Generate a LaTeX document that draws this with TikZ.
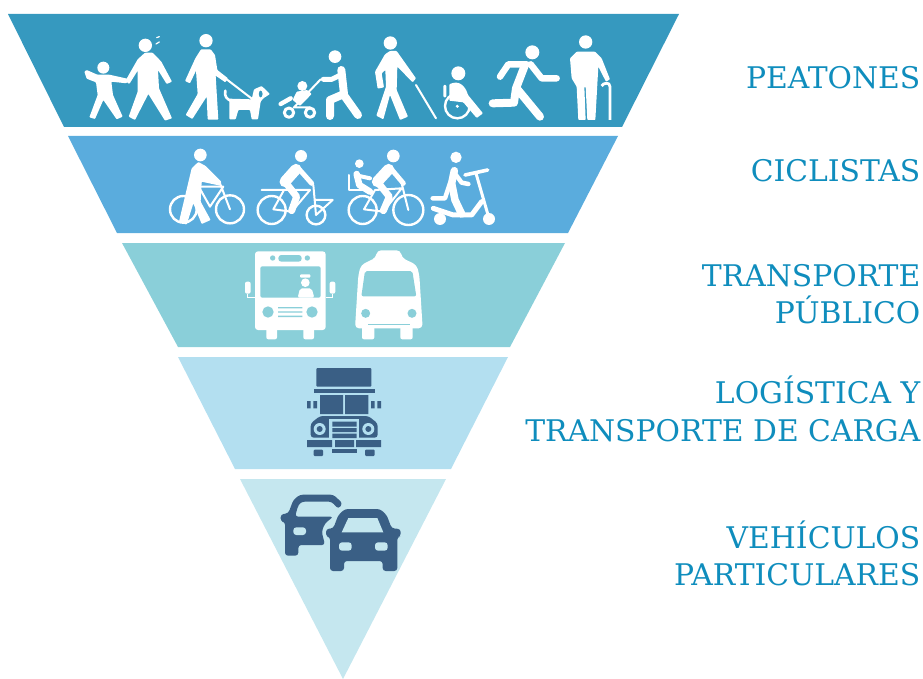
\documentclass[tikz,border=0pt]{standalone}
\usepackage{fontspec}
\usepackage{xcolor}
\setmainfont{DejaVu Serif}
\definecolor{bandA}{HTML}{3699BF}
\definecolor{bandB}{HTML}{5AACDD}
\definecolor{bandC}{HTML}{8ACFD9}
\definecolor{bandD}{HTML}{B3DFF0}
\definecolor{bandE}{HTML}{C5E7EF}
\definecolor{labelblue}{HTML}{0F8DBD}
\definecolor{slate}{HTML}{3A5F85}
\tikzset{
	band/.style={draw=none},
	label/.style={anchor=east,align=right,inner sep=0pt,text=labelblue,font=\fontsize{29.8}{37.5}\selectfont},
	solid white/.style={fill=white,rounded corners=.8pt},
	limb/.style={draw=white,line width=8pt,line cap=round,line join=round},
	rod/.style={draw=white,line width=2pt,line cap=round,line join=round},
	dark/.style={fill=slate,rounded corners=1pt}
}
\begin{document}
\begin{tikzpicture}[x=1pt,y=-1pt]
		\useasboundingbox (0,0) rectangle (923,679);
		%
		% inverted pyramid
		\fill[band,bandA] (8,14) -- (679,14) -- (622,127) -- (64,127) -- cycle;
		\fill[band,bandB] (68,136) -- (618,136) -- (568,233) -- (117,233) -- cycle;
		\fill[band,bandC] (122,243) -- (565,243) -- (510,347) -- (178,347) -- cycle;
		\fill[band,bandD] (178,357) -- (508,357) -- (451,469) -- (235,469) -- cycle;
		\fill[band,bandE] (240,479) -- (446,479) -- (343,679) -- cycle;
		%
		% labels
		\node[label] (peatones) at (920.5,78) {PEATONES};
		\node[label] (ciclistas) at (920.5,171) {CICLISTAS};
		\node[label] (publico) at (920.5,294) {TRANSPORTE\\PÚBLICO};
		\node[label] (carga) at (920.5,409) {LOGÍSTICA Y\\TRANSPORTE DE CARGA};
		\node[label] (particulares) at (920.5,553.5) {VEHÍCULOS\\PARTICULARES};
		%
		% pedestrians, left part
		\begin{scope}[shift={(70,20)},scale=1/3]
			% child and adult
			\fill[white] (100,143) circle (18);
			\fill[solid white] (43,155) -- (50,150) -- (82,164) -- (118,164) -- (172,176) -- (170,190) -- (124,185) -- (129,225) -- (158,290) -- (140,298) -- (100,240) -- (75,297) -- (58,292) -- (83,225) -- (78,187) -- (50,176) -- cycle;
			\fill[white] (226,76) circle (20);
			\fill[solid white] (166,183) -- (203,118) -- (225,98) -- (248,98) -- (274,125) -- (306,185) -- (290,192) -- (264,150) -- (267,205) -- (306,295) -- (285,302) -- (235,222) -- (195,300) -- (176,290) -- (203,215) -- (203,152) -- (178,192) -- cycle;
			\draw[rod,line width=1.2pt] (260,53) -- (268,50) (258,72) -- (268,66);
			% man with dog
			\fill[white] (408,62) circle (20);
			\fill[solid white] (345,183) -- (376,115) -- (393,88) -- (422,88) -- (435,105) -- (442,150) -- (474,175) -- (466,187) -- (437,167) -- (445,299) -- (413,299) -- (410,230) -- (367,297) -- (347,285) -- (383,222) -- (378,152) -- (360,190) -- cycle;
			\draw[rod] (470,178) -- (548,238);
			\fill[solid white] (478,236) -- (545,238) -- (552,208) -- (575,198) -- (600,222) -- (580,235) -- (572,245) -- (564,298) -- (545,298) -- (540,270) -- (505,270) -- (497,298) -- (478,298) -- (478,265) -- cycle;
			\draw[white,line width=2.6pt,line cap=round] (466,212) .. controls (462,230) and (472,238) .. (482,242);
			\fill[bandA] (572,222) ellipse (8 and 13);
			\draw[white,line width=1.3pt] (572,222) ellipse (8 and 13);
			% stroller
			\fill[white] (795,110) circle (19);
			\draw[limb] (814,150) -- (822,222) -- (780,240) -- (780,288);
			\draw[limb] (825,230) -- (864,285);
			\draw[limb,line width=5pt] (812,165) -- (785,178) -- (760,178);
			\draw[rod] (752,178) -- (672,262) -- (720,262);
			\fill[white] (697,198) circle (15);
			\fill[solid white] (680,215) -- (712,210) -- (725,222) -- (690,258) -- (668,240) -- cycle;
			\draw[limb,line width=4.4pt] (632,252) -- (662,235);
			\draw[rod,line width=3pt] (657,278) circle (14) (720,278) circle (14);
			% blind, wheelchair, runner, elder
			\begin{scope}[shift={(870,0)}]
				\fill[white] (91,69) circle (20);
				\fill[solid white] (45,155) -- (75,103) -- (90,93) -- (110,93) -- (168,175) -- (158,187) -- (112,140) -- (110,210) -- (144,290) -- (120,300) -- (90,225) -- (70,298) -- (49,287) -- (78,200) -- (76,150) -- (65,160) -- (72,202) -- (53,206) -- cycle;
				\draw[rod] (168,195) -- (228,295);
				\fill[white] (295,160) circle (21);
				\draw[rod,line width=2.4pt] (292,258) circle (37);
				\fill[white] (292,259) circle (5);
				\fill[white,rounded corners=1pt] (250,195) rectangle (259,232);
				\fill[solid white] (268,193) .. controls (295,180) and (315,195) .. (324,225) -- (369,280) -- (350,294) -- (310,247) -- (268,242) -- cycle;
				\fill[white] (517,97) circle (21);
				\draw[limb] (495,135) -- (468,205) -- (462,248) -- (398,250);
				\draw[limb] (470,205) -- (540,290);
				\draw[limb,line width=6.5pt] (500,133) -- (445,133) -- (420,170);
				\draw[limb,line width=6.5pt] (512,133) -- (545,175) -- (590,175);
				\fill[white] (677,66) circle (20);
				\fill[solid white] (630,115) -- (650,95) -- (705,95) -- (725,115) -- (750,178) -- (738,185) -- (715,140) -- (706,300) -- (682,300) -- (677,200) -- (673,200) -- (677,300) -- (655,300) -- (650,200) -- (635,175) -- cycle;
				\draw[white,line width=2.8pt] (725,198) .. controls (730,188) and (750,185) .. (750,200) -- (750,300);
			\end{scope}
		\end{scope}
		%
		% cyclists
		\begin{scope}[shift={(160,140)},scale=1/3]
			% walking the bike
			\fill[white] (121,45) circle (19);
			\draw[rod,line width=2.4pt] (70,208) circle (40) (210,208) circle (42);
			\fill[solid white] (57,245) -- (95,85) -- (115,66) -- (137,78) -- (184,125) -- (180,137) -- (125,125) -- (122,185) -- (152,240) -- (125,252) -- (100,190) -- (80,254) -- cycle;
			\draw[rod] (122,140) -- (190,140) -- (150,200) -- (122,150) (180,130) -- (210,208);
			% plain bike
			\fill[white] (423,48) circle (18);
			\draw[rod,line width=2.4pt] (335,210) circle (42) (468,225) circle (28);
			\draw[rod] (305,150) -- (380,150) (340,208) -- (372,150) -- (450,150) -- (395,215) -- (340,208);
			\draw[rod] (460,135) -- (468,225) -- (518,180) -- (465,180);
			\draw[limb,line width=11pt] (408,88) -- (375,125);
			\draw[limb,line width=7pt] (375,125) -- (410,170) -- (395,212);
			\draw[limb,line width=5pt] (415,85) -- (455,130);
			% bike with child seat
			\fill[white] (700,48) circle (19);
			\fill[white] (598,71) circle (13);
			\draw[rod,line width=2.4pt] (608,210) circle (42) (745,210) circle (45);
			\draw[rod] (568,105) -- (568,150) -- (610,150);
			\draw[rod] (612,208) -- (645,150) -- (725,145) -- (670,215) -- (612,208) (725,130) -- (745,210);
			\draw[limb,line width=6.5pt] (590,102) -- (598,135) -- (630,155);
			\draw[limb,line width=4pt] (598,108) -- (630,115);
			\draw[limb,line width=11pt] (686,88) -- (652,125);
			\draw[limb,line width=7pt] (652,125) -- (688,170) -- (670,212);
			\draw[limb,line width=5pt] (692,85) -- (730,130);
			% kick scooter
			\fill[white] (888,52) circle (17);
			\draw[limb,line width=7.5pt] (883,92) -- (875,130) -- (885,180) -- (905,222);
			\draw[limb,line width=4.5pt] (888,105) -- (905,128) -- (925,132);
			\draw[limb,line width=4.5pt] (870,130) -- (855,175) -- (818,175);
			\draw[limb,line width=3.6pt] (915,105) -- (983,90);
			\draw[limb,line width=3pt] (948,100) -- (987,235);
			\draw[limb,line width=5pt] (820,205) -- (880,225) -- (935,225) -- (965,185);
			\fill[white] (840,237) circle (18);
			\fill[white] (987,237) circle (18);
		\end{scope}
		%
		% buses
		\begin{scope}[shift={(235,245)},scale=1/3]
			\fill[white,rounded corners=3pt] (60,19) rectangle (272,255);
			\fill[white,rounded corners=2pt] (94,240) rectangle (126,283);
			\fill[white,rounded corners=2pt] (205,240) rectangle (237,283);
			\fill[bandC,rounded corners=2pt] (76,64) rectangle (257,158);
			\fill[white,rounded corners=1pt] (195,88) rectangle (226,98);
			\fill[white] (211,113) circle (13);
			\fill[white,rounded corners=2pt] (188,158) -- (195,130) -- (230,130) -- (238,158) -- cycle;
			\fill[bandC] (113,39) circle (8) (217,39) circle (8);
			\fill[bandC,rounded corners=3pt] (130,30) rectangle (200,50);
			\fill[bandC] (99,201) circle (17) (231,201) circle (17);
			\fill[bandC] (129,186) rectangle (202,190) (129,199) rectangle (202,203) (129,212) rectangle (202,216);
			\fill[white,rounded corners=2pt] (30,110) rectangle (47,146);
			\fill[white,rounded corners=2pt] (284,110) rectangle (301,146);
			\draw[white,line width=.7pt] (38,146) -- (38,156) -- (60,156) (292,146) -- (292,156) -- (272,156);
			% second bus
			\fill[white,rounded corners=4pt] (423,38) -- (426,16) -- (497,16) -- (500,38) -- (545,60) -- (553,90) -- (563,250) -- (360,250) -- (370,90) -- (378,60) -- cycle;
			\fill[white,rounded corners=2pt] (381,240) rectangle (418,283);
			\fill[white,rounded corners=2pt] (496,240) rectangle (533,283);
			\fill[bandC,rounded corners=2pt] (390,78) -- (532,78) -- (544,154) -- (379,154) -- cycle;
			\fill[bandC] (392,205) circle (13.5) (531,205) circle (13.5);
			\fill[bandC] (400,236) rectangle (525,240);
		\end{scope}
		%
		% truck
		\begin{scope}[shift={(270,360)},scale=1/3]
			\fill[dark] (139,24) rectangle (304,80);
			\fill[slate] (132,87) rectangle (315,100);
			\fill[slate] (150,105) rectangle (219,162) (225,105) rectangle (295,162);
			\fill[slate] (111,123) rectangle (122,145) (130,123) rectangle (141,145);
			\fill[slate] (303,123) rectangle (314,145) (322,123) rectangle (333,145);
			\fill[slate,rounded corners=3pt] (122,233) -- (122,190) -- (150,168) -- (295,168) -- (323,190) -- (323,233) -- cycle;
			\fill[bandD] (178,178) rectangle (268,238);
			\fill[slate] (187,185) rectangle (260,200) (187,204) rectangle (260,216) (187,221) rectangle (260,234);
			\fill[bandD] (149,207) circle (18) (295,207) circle (18);
			\fill[slate] (149,207) circle (9) (295,207) circle (9);
			\fill[slate] (111,240) rectangle (186,261) (195,240) rectangle (252,261) (258,240) rectangle (333,261);
			\fill[slate] (186,267) rectangle (261,279);
			\fill[dark] (131,269) rectangle (159,288);
			\fill[dark] (285,269) rectangle (314,288);
		\end{scope}
		%
		% cars
		\begin{scope}[shift={(270,485)},scale=1/3]
			\fill[slate,rounded corners=3pt] (45,212) -- (45,110) -- (32,110) -- (32,88) -- (55,85) -- (70,45) -- (90,29) -- (190,29) -- (218,55) -- (205,72) -- (185,50) -- (95,50) -- (85,60) -- (75,95) -- (190,95) -- (165,115) -- (155,140) -- (165,180) -- (85,180) -- (85,212) -- cycle;
			\fill[bandE,rounded corners=3pt] (70,127) rectangle (108,150);
			\fill[slate,rounded corners=3pt] (180,258) -- (180,155) -- (168,155) -- (168,132) -- (190,130) -- (205,90) -- (225,72) -- (330,72) -- (350,90) -- (365,130) -- (392,132) -- (392,155) -- (382,155) -- (382,258) -- (338,258) -- (338,228) -- (222,228) -- (222,258) -- cycle;
			\fill[bandE] (235,99) -- (322,99) -- (340,142) -- (215,142) -- cycle;
			\fill[bandE,rounded corners=3pt] (207,172) rectangle (245,197);
			\fill[bandE,rounded corners=3pt] (315,172) rectangle (353,197);
		\end{scope}
	\end{tikzpicture}
\end{document}
